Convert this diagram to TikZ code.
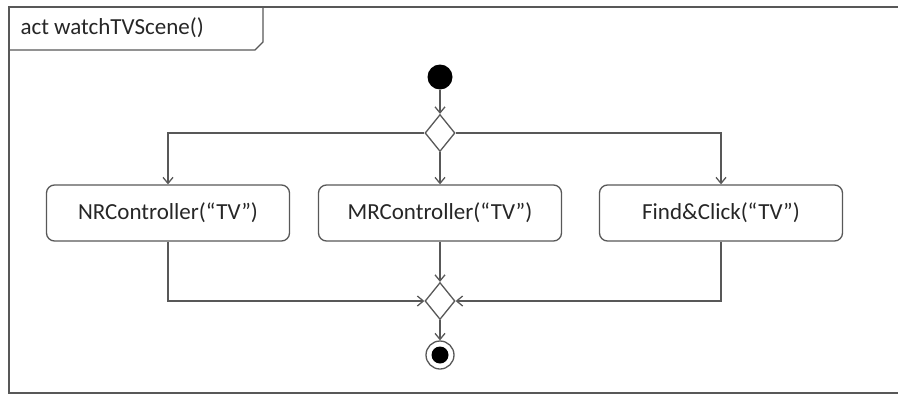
\documentclass[tikz,border=0pt]{standalone}
\usepackage{fontspec}
\setmainfont{Carlito}
\usetikzlibrary{shapes.geometric,arrows.meta}
\definecolor{linegray}{RGB}{88,88,88}

\begin{document}
\begin{tikzpicture}[x=1pt,y=-1pt,
  line/.style={draw=linegray,line width=1.3pt},
  >={Straight Barb[length=6pt,width=10pt]},
  action/.style={line,rounded corners=8pt,minimum width=243pt,minimum height=56pt,
    font=\fontsize{23}{27}\selectfont,text=black!85},
  branch/.style={line,fill=white,diamond,minimum width=30pt,minimum height=37pt,inner sep=0pt},
  startnode/.style={circle,fill=black,minimum size=25pt,inner sep=0pt},
  endnode/.style={circle,line,fill=white,minimum size=28pt,inner sep=0pt,
    path picture={\fill[black] (path picture bounding box.center) circle (8.5pt);}}]
\useasboundingbox (0,0) rectangle (898,394);

% frame
\draw[line] (898,7) -- (9,7) -- (9,393) -- (898,393);
\draw[line] (9,50) -- (255,50) -- (263,42) -- (263,7);
\node (title) [anchor=west,font=\fontsize{23}{27}\selectfont,text=black!85] at (17,28) {act watchTVScene()};

% nodes
\node (start) [startnode] at (440,77) {};
\node (split) [branch] at (440,133) {};
\node (nr) [action] at (168,213) {NRController(“TV”)};
\node (mr) [action] at (440,213) {MRController(“TV”)};
\node (fc) [action] at (721,213) {Find\&Click(“TV”)};
\node (merge) [branch] at (440,301) {};
\node (final) [endnode] at (440,355) {};

% arrows
\draw[line,->] (start) -- (split);
\draw[line,->] (split.west) -| (nr.north);
\draw[line,->] (split) -- (mr);
\draw[line,->] (split.east) -| (fc.north);
\draw[line,->] (nr.south) |- (merge.west);
\draw[line,->] (mr) -- (merge);
\draw[line,->] (fc.south) |- (merge.east);
\draw[line,->] (merge) -- (final);
\end{tikzpicture}
\end{document}
